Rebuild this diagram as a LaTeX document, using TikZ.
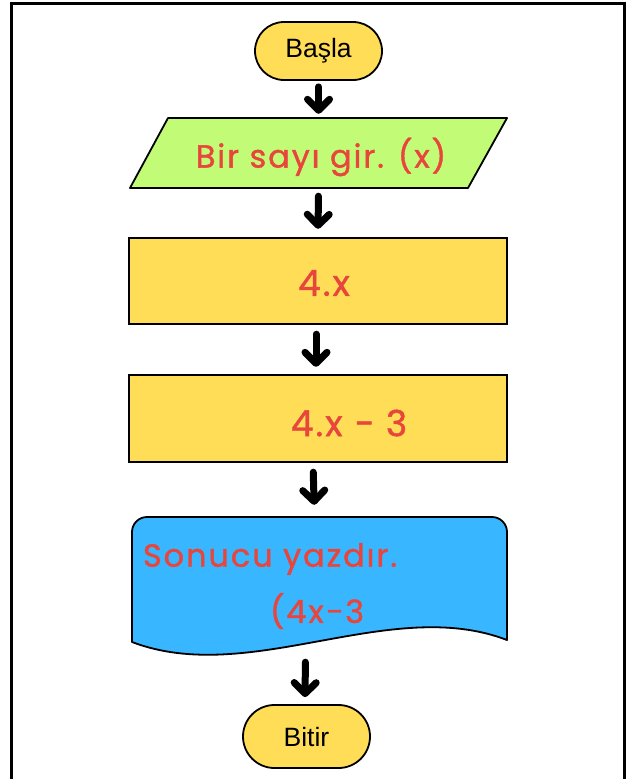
\documentclass[tikz,border=0pt]{standalone}
\usepackage{fontspec}
\setmainfont{Liberation Sans}
\newfontfamily\hand{Poppins}[LetterSpace=6, FakeBold=1.2]
\usetikzlibrary{arrows.meta,shapes.misc}
\definecolor{termfill}{RGB}{255,221,87}
\definecolor{infill}{RGB}{194,252,118}
\definecolor{procfill}{RGB}{255,221,87}
\definecolor{docfill}{RGB}{56,182,255}
\definecolor{ink}{RGB}{232,69,60}
\begin{document}
\begin{tikzpicture}[x=1pt,y=-1pt,
  term/.style={rounded rectangle, draw=black, line width=1.8pt, fill=termfill,
    minimum width=127pt, inner sep=0pt, font=\fontsize{26.5}{30}\selectfont},
  proc/.style={rectangle, draw=black, line width=2.4pt, fill=procfill,
    minimum width=378pt, inner sep=0pt},
  shapeline/.style={draw=black, line width=1.8pt, line join=round},
  holder/.style={rectangle, inner sep=0pt},
  handtxt/.style={text=ink, inner sep=0pt, font=\hand\fontsize{32}{38}\selectfont},
  bighand/.style={handtxt, font=\hand\fontsize{36}{42}\selectfont},
  flow/.style={line width=7pt, line cap=round,
    -{Straight Barb[length=11pt, width=22pt, line cap=round, line join=round]}},
  frameline/.style={line width=3pt}
]
\useasboundingbox (0,0) rectangle (634,779);
\clip (0,0) rectangle (634,779);
\draw[frameline] (11,3) rectangle (624.5,800);

% start
\node[term, minimum height=58pt] (start) at (318.5,51) {Başla};

% input (parallelogram)
\draw[shapeline, fill=infill] (168,118) -- (507,118) -- (468,188) -- (130,188) -- cycle;
\node[holder, minimum width=340pt, minimum height=70pt] (input) at (318.5,153) {};
\node[handtxt] (inputtext) at (321,157) {Bir sayı gir. (x)};

% process 1
\node[proc, minimum height=86pt] (p1) at (318,281) {};
\node[bighand] (p1text) at (324,283) {4.x};

% process 2
\node[proc, minimum height=87pt] (p2) at (318,418.5) {};
\node[bighand] (p2text) at (349,423) {4.x − 3};

% document
\draw[shapeline, fill=docfill] (132,642) -- (132,532) arc[start angle=180, end angle=270, radius=15]
  -- (492,517) arc[start angle=270, end angle=360, radius=15] -- (507,640)
  .. controls (390,595) and (250,687) .. (132,642) -- cycle;
\node[holder, minimum width=375pt, minimum height=132pt] (doc) at (319.5,583) {};
\node[handtxt] (doctext1) at (270,559) {Sonucu yazdır.};
\node[handtxt] (doctext2) at (317,611) {(4x−3};

% end
\node[term, minimum height=63pt] (stop) at (306.5,736.5) {Bitir};

% connectors
\draw[flow, shorten <=6pt, shorten >=4pt] (start.south) -- (input.north);
\draw[flow, shorten <=8pt, shorten >=8pt] (input.south) -- (p1.north);
\draw[flow, shorten <=9pt, shorten >=7pt] ([xshift=-2pt]p1.south) -- ([xshift=-2pt]p2.north);
\draw[flow, shorten <=9pt, shorten >=12pt] ([xshift=-5pt]p2.south) -- ([xshift=-5pt]doc.north);
\draw[flow, shorten <=13pt, shorten >=7pt] ([xshift=-14pt]doc.south) -- ([xshift=-1.5pt]stop.north);
\end{tikzpicture}
\end{document}
